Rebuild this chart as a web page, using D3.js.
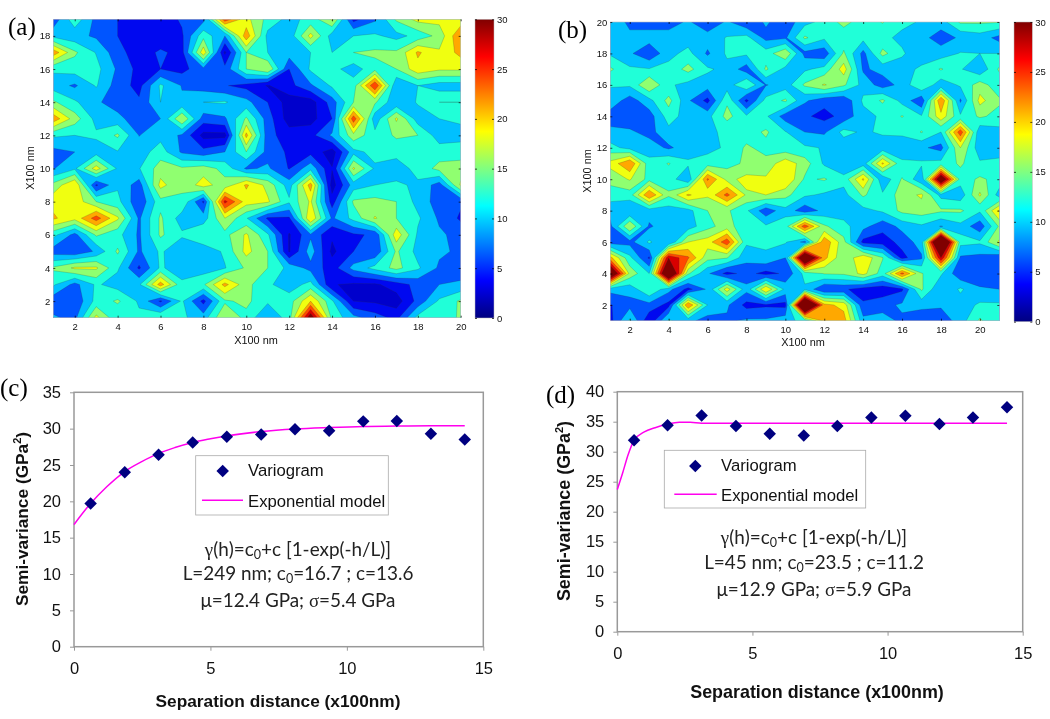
<!DOCTYPE html>
<html><head><meta charset="utf-8">
<script src="https://cdn.jsdelivr.net/npm/d3@7"></script>
<style>
html,body{margin:0;padding:0;background:#fff}
svg{display:block;filter:blur(0.4px)}
text{font-family:"Liberation Sans",Arial,sans-serif;fill:#111}
.panel{font-family:"Liberation Serif","Times New Roman",serif;font-size:25px;fill:#000}
.eq{font-family:Lato,"Noto Sans",sans-serif;font-size:18.9px;text-anchor:middle;fill:#222}
</style></head><body>
<svg id="c" width="1050" height="719"></svg>
<script>
// Panel (a): rows from y=19 down to y=1, columns x=1..20
const gridA = [
[7,14,8,6,4.5,4,6.5,8,26,19,14,11,13,18.5,5,8.5,15.5,19,19,19],
[11,10,8.5,6,4,4,5.5,14,9,23,11,10,19,10.5,12,12.5,11,13,16,24],
[23,15.5,11.8,7,4.5,6.5,5,20,2.5,15,12,10.5,12,12,15,15.5,15.5,21.5,18.5,22],
[12.5,13.5,13,8.5,5,6,5,8,7,15,18,6,12.5,13,10.5,14,15,20,18.5,18.5],
[10.5,8.5,12.3,7.5,5,12.5,8.8,7.5,6.2,5,2.8,5,8.5,12.5,13.5,27,9,12,10.5,10.5],
[15.5,12.5,9.5,7.5,6.5,12,9.5,12,12.3,10,6,1.5,1.5,7.5,15,15.5,9.5,12.3,15,15],
[23,16.5,11,10,7,9,18,7.5,8.5,15.5,7.5,1.5,1.8,6,26,10,18.5,10.5,12,12.5],
[12.5,12,12.5,15.5,8.9,11,8.5,2,2,22,7,4.5,5,9.5,17,13,15.5,15,10.5,11],
[8,9,10.5,11.8,10.5,13.5,8.5,7,9,15,7.8,5.5,5,1.5,11,13,13,13,13.5,13.5],
[8.8,11.5,19.5,11.5,11.8,16.5,15.5,16.5,14,8.5,9.5,5.8,11,3.2,18.5,11.5,10.5,13,16,16.5],
[16,21,5.5,11.5,7.5,19,15.5,19.5,16,21.5,17,10.5,22.5,1.5,10.5,12,12.5,11.5,7.5,18.5],
[20,20,15,13,6.5,14,14.5,5.5,28,19.5,18.5,12.5,18.5,4.5,15.5,16,15,11,7.5,6.5],
[21.5,19,25.5,18.5,8.5,15.5,10.5,10.5,18,12.3,5.5,5.5,21,8.5,13,18.3,15,12.5,8.5,5.5],
[13,8,15.5,13,8.5,15.5,12.5,14.9,14,18.5,12.5,2.7,8.5,3.5,5.5,6.5,20,11.5,9.5,8],
[7.5,6.5,9.5,15.5,8.5,12.5,9.5,10,12.5,19,15,2.7,10.5,2.3,6,6.5,15.5,11,9.5,8.5],
[15.5,18.5,18.5,12.5,5.5,12.5,10,10.5,11.8,15.5,15,11,8,4.5,10,13,16,12.5,8.5,7.5],
[12.5,8,12.5,10.5,11.5,22.5,12.8,14.5,22,16,12.5,10.5,13,3.2,2.5,2.5,4.5,7,9,9.5],
[7,6.5,13,15.5,11.5,5.5,12.5,5,14.5,15.8,12.5,13.5,21,12.5,3,2.5,1.5,7,12.5,15.5],
[9.5,8,19,12.5,12.7,15,12.5,10.5,18,14,9,13.5,33,14,10,7.5,5,13,13,15.5]
];
// Panel (b): rows from y=20 down to y=1, columns x=1..21
const gridB = [
[10.5,8.5,7.5,7.5,9.5,6.5,9.5,6.5,9.5,7,11,13,16,13.5,15.2,12.5,11.8,10.5,15.5,15.5,15.2],
[10.5,9.5,10.5,10.5,10.5,10.5,12.2,13,8,8.5,15.5,12.5,13,13,12.5,11.5,10,7.5,9.5,10.5,8],
[11.5,9.5,6.5,11,13,8.5,12.5,12.5,13.5,17.5,8,7,15.5,8,16,12.3,10.5,10.5,12.2,12,12],
[15.5,12.5,12.2,13,16,12.5,11,7.5,15.5,11,11.5,13,19.5,8.5,10,11,12.5,15.3,12.3,9.5,15.5],
[12.2,12.5,18,12.5,11,10.5,10.5,14.8,8.8,10.5,15.5,18.3,15.5,11,7.5,10,15,10,12.5,16.5,13],
[11,7.5,11,16,9.5,5,14.5,5.2,13,15.5,9.5,7,6.5,12.5,15.5,11,6.5,24,8.5,19,15.5],
[7.5,7,7.5,13.5,10.5,11,16,12.5,12.5,7.5,6.5,5,7,11,12.5,15.2,12.3,20,12.5,15.5,14],
[9.8,9.5,8,11,11,11.5,12.5,13.5,15.5,12.2,9,8.5,13,11.5,12.5,12.5,15.2,12,26,9.5,11],
[13,11,10.5,8.5,10.5,11,12.5,15.5,14,13,12.5,11.8,10,10,10,10.5,9.5,8,18,10,10.5],
[19,24,13,15.2,12.5,13.5,14,15.5,16,20,16.5,11.5,9.5,10.5,21.5,12.5,12.5,13,15.5,12.5,12.8],
[16,18.3,14,13.5,9.5,24.5,17,19,18.5,21,14.5,15.3,13,21.5,9.5,15.3,9.5,36,13.5,15.5,14],
[13.5,13.5,24,15.5,21.5,18.5,25,17.5,18,16,12.5,11.5,11,15.5,12.5,16.5,18.5,11,10,18.5,10.5],
[10,9,10.5,10.5,11,15,15.5,12.5,7,11,7,10,10.5,11,12.5,15.8,16.5,15.5,15.5,12.5,21.5],
[8.3,18,8.5,11,10.5,14,16.5,12.5,12.5,13.5,26,15.5,13,10,7,10,11.5,8.8,11,7,15.5],
[7.5,8,12.5,9,18,19.5,26,12.5,12.5,12.3,8,23.5,16,5,4.5,7,10.5,45,13,12.5,18.5],
[22,12.8,5.5,29.9,24.5,16,15.2,10,11.5,9,40,22,15.5,20.5,15.2,5,8.5,30,8.5,8,6.5],
[38,17,12,40,15.5,9.5,5,7,5,6.5,13,15.2,15.5,19,13.5,25,15.2,12.5,6.5,6.5,6.5],
[10,10,15,10,5,9.5,19.5,10,21,11,11.5,6,6.5,4.5,4,5.5,15.5,9,12.5,9.5,9],
[5.8,8,8,5,24,12,9.5,5,5.5,5,45,22,20,6.5,8,9.5,10,9.5,10.5,12.5,12.5],
[5,12.5,3.5,12.5,10,7.5,8.5,9.5,9.5,11,13,22,22.5,10,10,8.5,6.5,7,10.5,15.5,12]
];
const levels = [0,3,6,9,12,15,18,21,24,27,30];
const bandColors = ["#0000cc","#0008f0","#0055ff","#00c0ff","#20ffd8","#90ff70","#f0ff10","#ffa800","#ff4800","#d80000","#800000"];
const colorbarTicks = [0,5,10,15,20,25,30];
const ticksAx = [2,4,6,8,10,12,14,16,18,20], ticksAy = [2,4,6,8,10,12,14,16,18];
const ticksBx = [2,4,6,8,10,12,14,16,18,20], ticksBy = [2,4,6,8,10,12,14,16,18,20];

// Variograms
const cX = [0.61,1.86,3.1,4.35,5.6,6.86,8.1,9.35,10.6,11.83,13.08,14.32];
const cY = [19.7,24.0,26.4,28.1,28.9,29.2,29.9,29.7,31.0,31.05,29.3,28.5];
const cModelX = [0,0.3,0.61,1.2,1.86,2.5,3.1,3.7,4.35,5,5.6,6.86,8.1,9.35,10.6,11.83,13.08,14.32];
const cModelY = [16.8,18.3,19.7,22,24.1,25.5,26.6,27.4,28.1,28.6,29,29.6,29.95,30.15,30.3,30.35,30.4,30.4];
const dX = [0.62,1.86,3.12,4.39,5.64,6.9,8.14,9.4,10.66,11.92,13.16,14.42];
const dY = [31.9,34.4,36.05,34.3,33,32.7,34.3,35.7,36,34.6,35.7,37.4];
const dModelX = [0,0.2,0.4,0.62,1,1.4,1.86,2.3,2.7,3.12,4.39,8.14,11.92,14.42];
const dModelY = [23.7,26.5,29.5,31.9,33.3,34,34.6,34.9,34.9,34.75,34.75,34.75,34.75,34.75];

const svg = d3.select("#c"), defs = svg.append("defs");
function jet(t){ // t in 0..1, MATLAB jet
  const c = (a)=>Math.max(0,Math.min(1,a));
  const r = c(Math.min(4*t-1.5,-4*t+4.5)), g = c(Math.min(4*t-0.5,-4*t+3.5)), b = c(Math.min(4*t+0.5,-4*t+2.5));
  return d3.rgb(r*255,g*255,b*255).formatHex();
}
const colorScale = d3.scaleOrdinal().domain(levels).range(bandColors);

function contourPanel(o){
  const g = svg.append("g");
  const ny = o.grid.length, nx = o.grid[0].length;
  const x = d3.scaleLinear().domain([1,nx]).range([o.x0,o.x1]);
  const y = d3.scaleLinear().domain([1,ny]).range([o.y1,o.y0]);
  const clipId = "clip"+o.id;
  defs.append("clipPath").attr("id",clipId).append("rect")
    .attr("x",o.x0).attr("y",o.y0).attr("width",o.x1-o.x0).attr("height",o.y1-o.y0);
  const values = o.grid.flat();
  const contours = d3.contours().size([nx,ny]).thresholds(levels)(values);
  const path = d3.geoPath(d3.geoTransform({point(px,py){
    this.stream.point(x(px+0.5), y(ny-(py-0.5)));
  }}));
  g.append("g").attr("clip-path",`url(#${clipId})`).selectAll("path").data(contours).join("path")
    .attr("d",path).attr("fill",d=>colorScale(d.value))
    .attr("stroke","#333").attr("stroke-opacity",0.4).attr("stroke-width",0.5);
  g.append("rect").attr("x",o.x0).attr("y",o.y0).attr("width",o.x1-o.x0).attr("height",o.y1-o.y0)
    .attr("fill","none").attr("stroke","#bbb").attr("stroke-width",0.6);
  const fs = 9.5;
  const ax = (sel,axis)=>{ sel.call(axis); sel.select(".domain").remove();
    sel.selectAll("line").attr("stroke","#000").attr("stroke-width",0.7);
    sel.selectAll("text").attr("font-size",fs).attr("font-family",'"Liberation Sans",Arial').attr("fill","#222"); };
  ax(g.append("g").attr("transform",`translate(0,${o.y1})`), d3.axisBottom(x).tickValues(o.tx).tickFormat(d3.format("d")).tickSizeInner(-2).tickSizeOuter(0).tickPadding(6));
  ax(g.append("g").attr("transform",`translate(${o.x0},0)`), d3.axisLeft(y).tickValues(o.ty).tickFormat(d3.format("d")).tickSizeInner(-2).tickSizeOuter(0).tickPadding(3));
  ax(g.append("g").attr("transform",`translate(0,${o.y0})`), d3.axisTop(x).tickValues(o.tx).tickFormat("").tickSizeInner(-2).tickSizeOuter(0));
  ax(g.append("g").attr("transform",`translate(${o.x1},0)`), d3.axisRight(y).tickValues(o.ty).tickFormat("").tickSizeInner(-2).tickSizeOuter(0));
  g.append("text").attr("x",o.xlx).attr("y",o.xly).attr("text-anchor","middle").attr("font-size",10.9).text("X100 nm");
  g.append("text").attr("transform",`translate(${o.ylx},${o.yly}) rotate(-90)`).attr("text-anchor","middle").attr("font-size",10.9).text("X100 nm");
  // colour bar
  const gid = "cb"+o.id;
  const lg = defs.append("linearGradient").attr("id",gid).attr("x1",0).attr("y1",1).attr("x2",0).attr("y2",0);
  d3.range(0,1.0001,1/32).forEach(t=>lg.append("stop").attr("offset",t).attr("stop-color",jet(t)));
  const cy = d3.scaleLinear().domain([0,30]).range([o.cb1,o.cb0]);
  g.append("rect").attr("x",o.cx0).attr("y",o.cb0).attr("width",o.cx1-o.cx0).attr("height",o.cb1-o.cb0)
    .attr("fill",`url(#${gid})`).attr("stroke","#bbb").attr("stroke-width",0.5);
  ax(g.append("g").attr("transform",`translate(${o.cx1},0)`), d3.axisRight(cy).tickValues(colorbarTicks).tickFormat(d3.format("d")).tickSizeInner(-2).tickSizeOuter(0).tickPadding(3));
  ax(g.append("g").attr("transform",`translate(${o.cx0},0)`), d3.axisLeft(cy).tickValues(colorbarTicks).tickFormat("").tickSizeInner(-2).tickSizeOuter(0));
  g.append("text").attr("class","panel").attr("x",o.lx).attr("y",o.ly).text(o.label);
}
contourPanel({id:"a",grid:gridA,x0:53.3,x1:460.7,y0:19.3,y1:317.7,tx:ticksAx,ty:ticksAy,xlx:256,xly:344,ylx:34,yly:168,cx0:475,cx1:494,cb0:19.3,cb1:318,lx:8,ly:35,label:"(a)"});
contourPanel({id:"b",grid:gridB,x0:610.3,x1:999.3,y0:22,y1:320.7,tx:ticksBx,ty:ticksBy,xlx:803,xly:346,ylx:591,yly:171,cx0:1014,cx1:1032.3,cb0:22,cb1:321.7,lx:558,ly:38,label:"(b)"});

function vario(o){
  const g = svg.append("g");
  const x = d3.scaleLinear().domain([0,15]).range([o.x0,o.x1]);
  const y = d3.scaleLinear().domain([0,o.ymax]).range([o.y1,o.y0]);
  g.append("rect").attr("x",o.x0).attr("y",o.y0).attr("width",o.x1-o.x0).attr("height",o.y1-o.y0)
    .attr("fill","none").attr("stroke","#999").attr("stroke-width",1.5);
  const style=(sel)=>{ sel.select(".domain").remove(); sel.selectAll("line").attr("stroke","#999").attr("stroke-width",1);
    sel.selectAll("text").attr("font-size",16.5).attr("font-family",'"Liberation Sans",Arial').attr("fill","#222"); };
  g.append("g").attr("transform",`translate(0,${o.y1})`).call(d3.axisBottom(x).tickValues([0,5,10,15]).tickFormat(d3.format("d")).tickSize(4).tickPadding(o.xpad)).call(style);
  g.append("g").attr("transform",`translate(${o.x0},0)`).call(d3.axisLeft(y).tickValues(d3.range(0,o.ymax+1,5)).tickFormat(d3.format("d")).tickSize(4).tickPadding(9)).call(style);
  const pts = o.mx.map((v,i)=>[x(v),y(o.my[i])]);
  g.append("path").attr("d",d3.line().curve(d3.curveMonotoneX)(pts)).attr("fill","none").attr("stroke","#ff00ee").attr("stroke-width",1.5);
  const sym = d3.symbol().type(d3.symbolSquare).size(78);
  g.selectAll(".pt").data(o.px).join("path").attr("class","pt").attr("d",sym)
    .attr("transform",(d,i)=>`translate(${x(d)},${y(o.py[i])}) rotate(45)`).attr("fill","#000080");
  // legend
  g.append("rect").attr("x",o.lg[0]).attr("y",o.lg[1]).attr("width",o.lg[2]).attr("height",o.lg[3]).attr("fill","#fff").attr("stroke","#aaa").attr("stroke-width",0.8);
  g.append("path").attr("d",sym).attr("transform",`translate(${o.lgD[0]},${o.lgD[1]}) rotate(45)`).attr("fill","#000080");
  g.append("line").attr("x1",o.lgL[0]).attr("x2",o.lgL[1]).attr("y1",o.lgL[2]).attr("y2",o.lgL[2]).attr("stroke","#ff00ee").attr("stroke-width",1.5);
  g.append("text").attr("x",o.lgT).attr("y",o.lgB[0]).attr("font-size",16.7).text("Variogram");
  g.append("text").attr("x",o.lgT).attr("y",o.lgB[1]).attr("font-size",16.7).text("Exponential model");
  // axis titles
  g.append("text").attr("x",o.xl[0]).attr("y",o.xl[1]).attr("text-anchor","middle").attr("font-size",o.tfs).attr("font-weight","bold").text("Separation distance (x100nm)");
  const yt = g.append("text").attr("transform",`translate(${o.yl[0]},${o.yl[1]}) rotate(-90)`).attr("text-anchor","middle").attr("font-size",o.tfs).attr("font-weight","bold");
  yt.append("tspan").text("Semi-variance (GPa");
  yt.append("tspan").attr("dy",-7).attr("font-size",11).text("2");
  yt.append("tspan").attr("dy",7).text(")");
  // equations
  const eq = (yy,parts)=>{ const t = g.append("text").attr("class","eq").attr("x",o.eqx).attr("y",yy);
    parts.forEach(p=>{ const s=t.append("tspan").text(p[0]);
      if(p[1]==="sub"){ s.attr("dy",3).attr("font-size",12.5);} else if(p[1]==="back"){ s.attr("dy",-3);}
      if(p[2]==="g"){ s.style("font-family",'"Liberation Serif",serif'); } }); };
  eq(o.eqy[0],[["γ","","g"],["(h)=c"],["0","sub"],["+c [1-exp(-h/L)]","back"]]);
  eq(o.eqy[1],o.e2);
  eq(o.eqy[2],o.e3);
  g.append("text").attr("class","panel").attr("x",o.lx).attr("y",o.ly).text(o.label);
}
vario({x0:74,x1:483.3,y0:392.3,y1:646.7,ymax:35,xpad:12,tfs:17.3,px:cX,py:cY,mx:cModelX,my:cModelY,
  lg:[195.7,455.7,192.6,59.3],lgD:[222.7,471],lgL:[202,243,500.3],lgT:248,lgB:[476,506.7],
  xl:[278,707],yl:[28,519],eqx:298,eqy:[556,580,606.7],
  e2:[["L=249 nm; c"],["0","sub"],["=16.7 ; c=13.6","back"]],
  e3:[["μ=12.4 GPa; "],["σ","","g"],["=5.4 GPa"]],lx:0,ly:396,label:"(c)"});
vario({x0:617.3,x1:1022.7,y0:391.7,y1:631.7,ymax:40,xpad:12,tfs:17.9,px:dX,py:dY,mx:dModelX,my:dModelY,
  lg:[664.3,450.3,201.4,57.7],lgD:[695.3,466],lgL:[674.3,716.7,494.3],lgT:721,lgB:[471,500.7],
  xl:[817,698],yl:[570,511],eqx:814,eqy:[544,569.3,596],
  e2:[["L=45 nm; c"],["0","sub"],["=23.5 ; c=11.2","back"]],
  e3:[["μ=12.9 GPa; "],["σ","","g"],["=5.9 GPa"]],lx:546,ly:403,label:"(d)"});
</script>
</body></html>
